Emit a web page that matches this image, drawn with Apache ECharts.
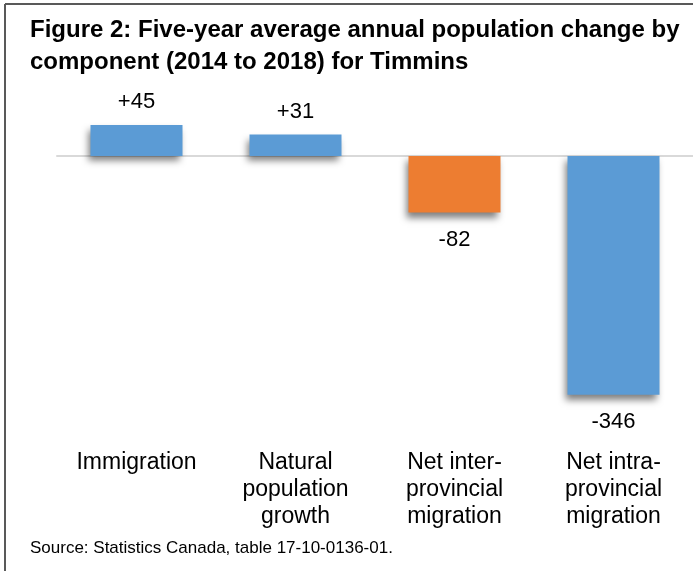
<!DOCTYPE html>
<html>
<head>
<meta charset="utf-8">
<script src="https://cdn.jsdelivr.net/npm/echarts@6/dist/echarts.min.js"></script>
<style>
  html, body { margin: 0; padding: 0; background: #fff; }
  #chart { width: 693px; height: 571px; }
</style>
</head>
<body>
<div id="chart"></div>
<script>
const categories = ['Immigration', 'Natural\npopulation\ngrowth', 'Net inter-\nprovincial\nmigration', 'Net intra-\nprovincial\nmigration'];
const values = [45, 31, -82, -346];
const barColors = ['#5b9bd5', '#5b9bd5', '#ed7d31', '#5b9bd5'];

const FONT = 'Arial, "Liberation Sans", sans-serif';

const chart = echarts.init(document.getElementById('chart'), null, { renderer: 'canvas' });

chart.setOption({
  backgroundColor: '#fff',
  animation: false,
  title: [
    {
      text: 'Figure 2: Five-year average annual population change by\ncomponent (2014 to 2018) for Timmins',
      left: 30,
      top: 14,
      padding: 0,
      textStyle: { fontFamily: FONT, fontSize: 24, fontWeight: 'bold', color: '#000', lineHeight: 32 },
    },
    {
      text: 'Source: Statistics Canada, table 17-10-0136-01.',
      left: 30,
      top: 538,
      padding: 0,
      textStyle: { fontFamily: FONT, fontSize: 17, fontWeight: 'normal', color: '#000', lineHeight: 20 },
    },
  ],
  graphic: [
    { type: 'line', shape: { x1: 5, y1: 4, x2: 693, y2: 4 }, style: { stroke: '#595959', lineWidth: 2 } },
    { type: 'line', shape: { x1: 5, y1: 4, x2: 5, y2: 571 }, style: { stroke: '#595959', lineWidth: 2 } },
  ],
  grid: { left: 57, top: 87, width: 640, height: 345 },
  xAxis: [
    {
      type: 'category',
      data: categories,
      axisLine: { onZero: true, lineStyle: { color: '#d9d9d9', width: 2 } },
      axisTick: { show: false },
      axisLabel: { show: false },
    },
    {
      type: 'category',
      data: categories,
      position: 'bottom',
      axisLine: { show: false, onZero: false },
      axisTick: { show: false },
      axisLabel: {
        margin: 17,
        fontFamily: FONT,
        fontSize: 23,
        lineHeight: 27,
        color: '#000',
        interval: 0,
      },
    },
  ],
  yAxis: {
    type: 'value',
    min: -400,
    max: 100,
    show: false,
    splitLine: { show: false },
  },
  series: [
    {
      type: 'bar',
      barWidth: 92,
      data: values.map((v, i) => ({
        value: v,
        itemStyle: { color: barColors[i] },
        label: { position: v >= 0 ? 'top' : 'bottom', distance: v >= 0 ? 12 : 16 },
      })),
      itemStyle: {
        shadowColor: 'rgba(0,0,0,0.5)',
        shadowBlur: 7,
        shadowOffsetX: -3,
        shadowOffsetY: 5,
      },
      label: {
        show: true,
        fontFamily: FONT,
        fontSize: 22,
        color: '#000',
        formatter: (p) => (p.value > 0 ? '+' + p.value : String(p.value)),
      },
    },
  ],
});
</script>
</body>
</html>
